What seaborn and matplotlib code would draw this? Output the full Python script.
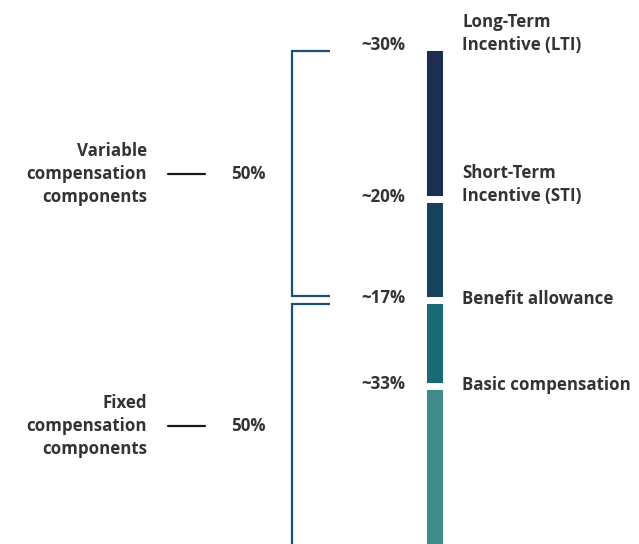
import numpy as np
import pandas as pd
import matplotlib
matplotlib.use("Agg")
import matplotlib.pyplot as plt
import seaborn as sns

# ---- data (bottom to top) ----
segments = ["Basic compensation", "Benefit allowance",
            "Short-Term\nIncentive (STI)", "Long-Term\nIncentive (LTI)"]
shares = [33, 17, 20, 30]
pct_labels = ["~33%", "~17%", "~20%", "~30%"]
seg_colors = ["#408b87", "#186b75", "#17435f", "#1c2f52"]

groups = ["Fixed\ncompensation\ncomponents", "Variable\ncompensation\ncomponents"]
group_shares = [50, 50]
group_labels = ["50%", "50%"]

sns.set_theme(style="white")
plt.rcParams["font.family"] = ["Open Sans", "DejaVu Sans"]

TEXT = "#333333"
BRACKET = "#1d4f6e"
FS = 12.2
FW = "bold"

fig = plt.figure(figsize=(6.39, 5.44), dpi=100)
ax = fig.add_axes([0, 0, 1, 1])

tops = np.cumsum(shares)
df = pd.DataFrame({"segment": segments, "share": shares, "top": tops,
                   "color": seg_colors, "pct": pct_labels})

# overlay cumulative bars, highest first
for _, row in df.iloc[::-1].iterrows():
    sns.barplot(x=[0], y=[row["top"]], color=row["color"], saturation=1,
                width=23, edgecolor="white", linewidth=5, ax=ax)

ax.set_xlim(-434, 205)
ax.set_ylim(1.68, 109.4)
ax.axis("off")

# labels per segment
for _, row in df.iterrows():
    top = row["top"]
    ax.text(-29, top + 0.4, row["pct"], ha="right", va="center",
            fontsize=FS, fontweight=FW, color=TEXT)
    nlines = row["segment"].count("\n") + 1
    yoff = 0.2 if nlines == 1 else 2.8
    ax.text(28, top + yoff, row["segment"], ha="left", va="center",
            fontsize=FS, fontweight=FW, color=TEXT, linespacing=1.36)

# brackets for groups
gtops = np.cumsum(group_shares)
gbots = gtops - np.array(group_shares)
gap = 0.8
for i, (g, lo, hi, lab) in enumerate(zip(groups, gbots, gtops, group_labels)):
    y0 = lo + gap if lo > 0 else lo - 5
    y1 = hi - gap if hi < 100 else hi - 0.7
    xs = [-104, -142, -142]
    ys = [y1, y1, y0]
    if lo > 0:
        xs = xs + [-104]
        ys = ys + [y0]
    ax.plot(xs, ys, color=BRACKET, lw=1.6, solid_capstyle="butt",
            solid_joinstyle="miter")
    mid = (lo + hi) / 2
    ax.text(-287, mid, g, ha="right", va="center", fontsize=FS,
            fontweight=FW, color=TEXT, linespacing=1.36)
    ax.plot([-266, -229], [mid, mid], color="#1a1a1a", lw=1.6)
    ax.text(-203, mid, lab, ha="left", va="center", fontsize=FS,
            fontweight=FW, color=TEXT)

fig.savefig("out.png", dpi=100)
